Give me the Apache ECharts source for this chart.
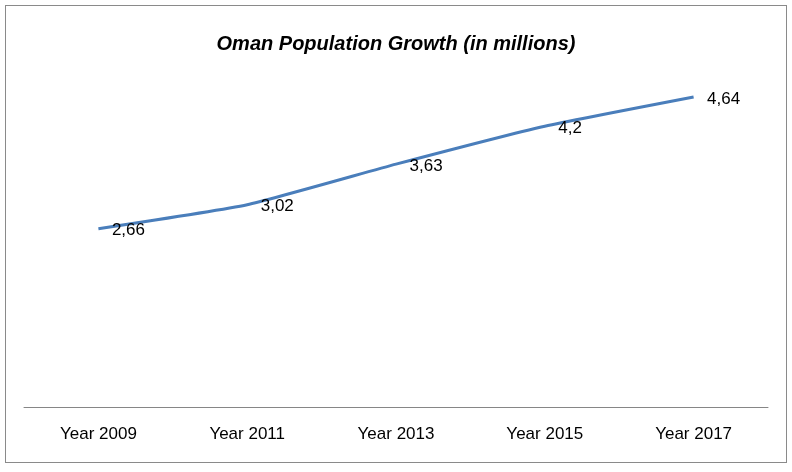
<html>
<head>
    <meta charset="utf-8">
    <title>Oman Population Growth</title>
    <script src="https://cdn.jsdelivr.net/npm/echarts@6/dist/echarts.min.js"></script>
    <style>
        html, body { margin: 0; padding: 0; background: #fff; }
        #frame { position: absolute; left: 5px; top: 5px; width: 780px; height: 456px; border: 1px solid #8a8a8a; }
    </style>
</head>
<body>
    <div id="frame"></div>
    <div id="main" style="position:absolute;left:0;top:0;width:792px;height:472px;"></div>
    <script type="text/javascript">
        var years = ['Year 2009', 'Year 2011', 'Year 2013', 'Year 2015', 'Year 2017'];
        var population = [2.66, 3.02, 3.63, 4.2, 4.64];

        var myChart = echarts.init(document.getElementById('main'));
        var option = {
            title: {
                text: 'Oman Population Growth (in millions)',
                left: 'center',
                top: 29,
                textStyle: {
                    fontFamily: 'Liberation Sans, Arial',
                    fontSize: 20,
                    fontWeight: 'bold',
                    fontStyle: 'italic',
                    color: '#000'
                }
            },
            grid: { left: 24, right: 24, top: 71, bottom: 65 },
            xAxis: {
                type: 'category',
                data: years,
                boundaryGap: true,
                axisLine: { onZero: false, lineStyle: { color: '#868686', width: 1 } },
                axisTick: { show: false },
                axisLabel: {
                    fontFamily: 'Liberation Sans, Arial',
                    fontSize: 17,
                    color: '#000',
                    margin: 19
                }
            },
            yAxis: {
                type: 'value',
                min: -0.02,
                max: 5.03,
                show: false
            },
            series: [{
                type: 'line',
                data: population,
                smooth: 0.15,
                symbol: 'circle',
                symbolSize: 1,
                showSymbol: true,
                itemStyle: { color: 'rgba(0,0,0,0)' },
                lineStyle: { color: '#4a7ebb', width: 3 },
                label: {
                    show: true,
                    position: 'right',
                    distance: 13,
                    offset: [0, 2],
                    fontFamily: 'Liberation Sans, Arial',
                    fontSize: 17,
                    color: '#000',
                    formatter: function (p) { return String(p.value).replace('.', ','); }
                }
            }]
        };
        myChart.setOption(option);
    </script>
</body>
</html>
